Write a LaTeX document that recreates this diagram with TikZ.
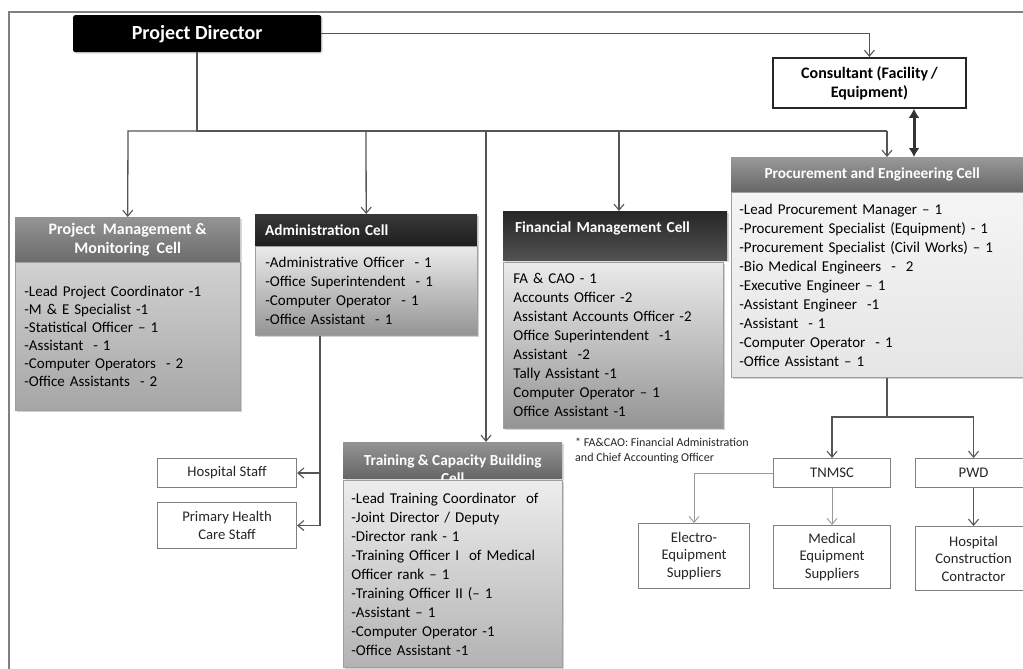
\documentclass[tikz,border=0pt]{standalone}
\usepackage{fontspec}
\setmainfont{Carlito}
\usetikzlibrary{arrows.meta,shadows,calc}

\definecolor{framegray}{HTML}{808080}
\definecolor{wire}{HTML}{555555}
\definecolor{lightwire}{HTML}{9A9A9A}

\tikzset{
  hdr/.style={rectangle, anchor=north west, inner xsep=10pt, inner ysep=0pt,
    text=white, font=\bfseries\fontsize{15.3}{18}\selectfont},
  cellbody/.style={rectangle, anchor=north west, draw=gray!75, line width=0.8pt,
    align=left, inner xsep=10pt, inner ysep=0pt,
    font=\fontsize{15}{19}\selectfont,
    drop shadow={opacity=0.35, shadow xshift=1.5pt, shadow yshift=-1.5pt}},
  plainbox/.style={rectangle, anchor=north west, draw=gray, line width=1.1pt,
    fill=white, align=center, inner sep=0pt, text=black!85,
    font=\fontsize{14.7}{17.5}\selectfont},
  conn/.style={draw=wire, line width=1.3pt},
  arr/.style={conn, -{Straight Barb[length=6pt,width=10pt,line width=1.1pt]}},
  lconn/.style={draw=lightwire, line width=1pt},
  larr/.style={lconn, -{Straight Barb[length=6pt,width=10pt,line width=0.9pt]}},
}

\begin{document}
\begin{tikzpicture}[x=1pt,y=-1pt]
\useasboundingbox (0,0) rectangle (1023,669);
\fill[white] (0,0) rectangle (1023,669);

% outer frame (left and top edges)
\draw[framegray, line width=2pt] (9,669) -- (9,12) -- (1023,12);

% ---- top level ----
\node[rectangle, anchor=north west, fill=black, rounded corners=2pt,
  minimum width=248pt, minimum height=37pt, text=white,
  font=\bfseries\fontsize{20}{22}\selectfont,
  drop shadow={opacity=0.3, shadow xshift=1.5pt, shadow yshift=-1.5pt}]
  (pd) at (73,15) {Project Director};

\node[rectangle, anchor=north west, draw=black!85, line width=1.8pt, fill=white,
  minimum width=193pt, minimum height=50pt, align=center, inner sep=0pt,
  font=\bfseries\fontsize{16}{19}\selectfont]
  (cons) at (772,57) {Consultant (Facility\,/\\Equipment)};

% ---- Project Management & Monitoring Cell ----
\node[hdr, top color=black!42, bottom color=black!58, minimum width=225pt,
  minimum height=45pt, align=center, font=\bfseries\fontsize{16}{19}\selectfont,
  drop shadow={opacity=0.3, shadow xshift=1.5pt, shadow yshift=-1.5pt}]
  (pmm-h) at (15,217) {Project\ \ Management \&\\Monitoring\ \ Cell};
\node[cellbody, top color=black!18, bottom color=black!35, minimum width=225pt,
  minimum height=148pt, text width=207pt, inner xsep=9pt,
  font=\fontsize{15}{18}\selectfont]
  (pmm-b) at (15,262) {-Lead Project Coordinator -1\\
  -M \& E Specialist -1\\
  -Statistical Officer – 1\\
  -Assistant\ \ - 1\\
  -Computer Operators\ \ - 2\\
  -Office Assistants\ \ - 2};

% ---- Administration Cell ----
\node[hdr, top color=black!78, bottom color=black!88, minimum width=222pt,
  minimum height=32pt, text width=202pt, align=left,
  drop shadow={opacity=0.3, shadow xshift=1.5pt, shadow yshift=-1.5pt}]
  (adm-h) at (255,214) {Administration Cell};
\node[cellbody, top color=black!8, bottom color=black!42, minimum width=222pt,
  minimum height=89pt, text width=202pt]
  (adm-b) at (255,246) {-Administrative Officer\ \ - 1\\
  -Office Superintendent\ \ - 1\\
  -Computer Operator\ \ - 1\\
  -Office Assistant\ \ - 1};

% ---- Financial Management Cell ----
\node[hdr, top color=black!85, bottom color=black!68, minimum width=220pt,
  minimum height=49pt, text width=200pt, align=left, inner xsep=12pt,
  drop shadow={opacity=0.3, shadow xshift=1.5pt, shadow yshift=-1.5pt}]
  (fin-h) at (503,211) {Financial Management Cell\\\mbox{}};
\node[cellbody, top color=black!8, bottom color=black!42, minimum width=220pt,
  minimum height=166pt, text width=200pt]
  (fin-b) at (503,262) {FA \& CAO - 1\\
  Accounts Officer -2\\
  Assistant Accounts Officer -2\\
  Office Superintendent\ \ -1\\
  Assistant\ \ -2\\
  Tally Assistant -1\\
  Computer Operator – 1\\
  Office Assistant -1};

\node[anchor=north west, align=left, inner sep=0pt, text=black!85,
  font=\fontsize{12}{15}\selectfont]
  (note) at (575,438) {* FA\&CAO: Financial Administration\\and Chief Accounting Officer};

% ---- Procurement and Engineering Cell ----
\node[hdr, top color=black!40, bottom color=black!60, minimum width=300pt,
  minimum height=35pt,
  drop shadow={opacity=0.3, shadow xshift=1.5pt, shadow yshift=-1.5pt}]
  (pe-h) at (731,157) {Procurement and Engineering Cell\hspace*{18pt}};
\node[cellbody, top color=black!4, bottom color=black!10, minimum width=300pt,
  minimum height=185pt, text width=284pt, inner xsep=8pt]
  (pe-b) at (731,192) {-Lead Procurement Manager – 1\\
  -Procurement Specialist (Equipment) - 1\\
  -Procurement Specialist (Civil Works) – 1\\
  -Bio Medical Engineers\ \ -\ \ 2\\
  -Executive Engineer – 1\\
  -Assistant Engineer\ \ -1\\
  -Assistant\ \ - 1\\
  -Computer Operator\ \ - 1\\
  -Office Assistant – 1};

% ---- Training & Capacity Building Cell ----
\node[hdr, top color=black!42, bottom color=black!60, minimum width=219pt,
  minimum height=36pt, inner xsep=0pt,
  drop shadow={opacity=0.3, shadow xshift=1.5pt, shadow yshift=-1.5pt}]
  (trn-h) at (343,442)
  {\parbox[t][8pt][t]{219pt}{\centering Training \& Capacity Building\\Cell}};
\node[cellbody, top color=black!7, bottom color=black!30, minimum width=219pt,
  minimum height=187pt, text width=203pt, inner xsep=8pt]
  (trn-b) at (343,480) {-Lead Training Coordinator\ \ of\\
  -Joint Director / Deputy\\
  -Director rank - 1\\
  -Training Officer I\ \ of Medical\\
  Officer rank – 1\\
  -Training Officer II (– 1\\
  -Assistant – 1\\
  -Computer Operator -1\\
  -Office Assistant -1};

% ---- staff boxes under Administration ----
\node[plainbox, minimum width=139pt, minimum height=29pt] (hs) at (157,458) {Hospital Staff};
\node[plainbox, minimum width=139pt, minimum height=46pt] (phc) at (157,502) {Primary Health\\Care Staff};

% ---- agencies and suppliers ----
\node[plainbox, minimum width=117pt, minimum height=29pt] (tnm) at (773,458) {TNMSC};
\node[plainbox, minimum width=116pt, minimum height=29pt] (pwd) at (915,458) {PWD};
\node[plainbox, minimum width=111pt, minimum height=65pt] (ele) at (638,523) {Electro-\\Equipment\\Suppliers};
\node[plainbox, minimum width=117pt, minimum height=63pt] (med) at (773,525) {Medical\\Equipment\\Suppliers};
\node[plainbox, minimum width=116pt, minimum height=64pt] (hcc) at (915,526) {Hospital\\Construction\\Contractor};

% ---- connectors ----
\coordinate (stem) at (197,131);
\coordinate (jPM) at (128,131);
\coordinate (jAd) at (366,131);
\coordinate (jTr) at (486,131);
\coordinate (jFi) at (619,131);
\coordinate (jPE) at (887,131);
\coordinate (dX) at (914,0);
\coordinate (aX) at (320,0);
\coordinate (pX) at (887,417);

\draw[arr] (pd.east) -| (cons.north);
\draw[conn, line width=2.8pt] (pd.south -| stem) -- (stem) -- (jFi);
\draw[arr] (stem) -- (jPM) -- (pmm-h.north);
\draw[arr] (jAd) -- (adm-h.north);
\draw[arr] (jTr) -- (jTr |- trn-h.north);
\draw[arr] (jFi) -- (jFi |- fin-h.north);
\draw[conn] (jFi) -- (jPE);
\draw[arr] (jPE) -- (jPE |- pe-h.north);

\draw[draw=black!80, line width=3pt,
  {Latex[length=9pt,width=11pt]}-{Latex[length=9pt,width=11pt]}]
  (cons.south -| dX) -- (pe-h.north -| dX);

\draw[conn] (adm-b.south -| aX) -- (aX |- phc.east);
\draw[arr] (aX |- hs.east) -- (hs.east);
\draw[arr] (aX |- phc.east) -- (phc.east);

\draw[conn] (pe-b.south -| pX) -- (pX);
\draw[arr] (pX) -| (tnm.north);
\draw[arr] (pX) -| (pwd.north);
\draw[larr] (tnm.west) -| (ele.north);
\draw[larr] (tnm.south) -- (med.north);
\draw[arr] (pwd.south) -- (hcc.north);
\end{tikzpicture}
\end{document}
